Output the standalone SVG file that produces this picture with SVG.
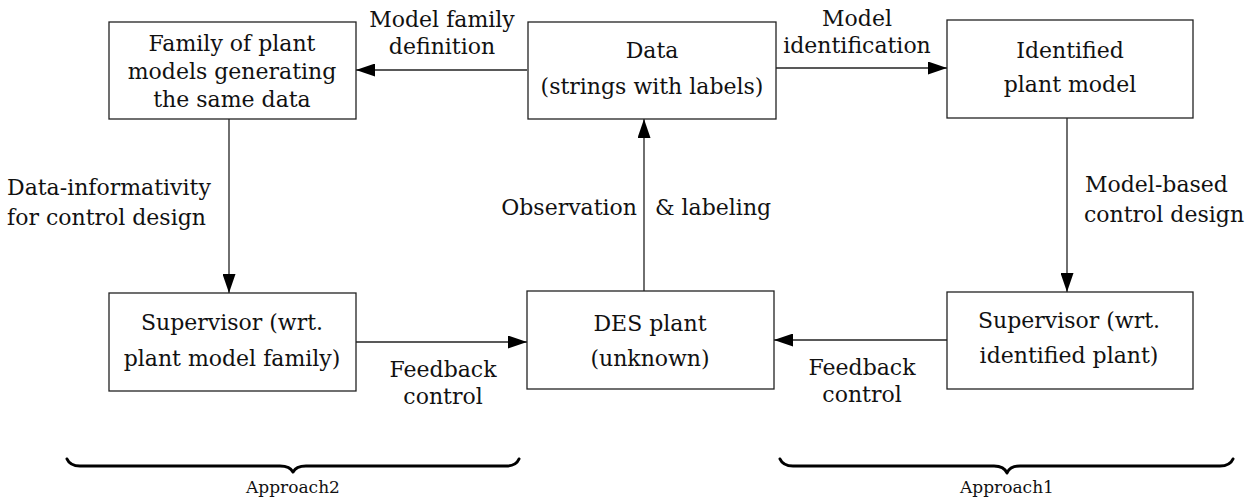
<svg xmlns="http://www.w3.org/2000/svg" width="1256" height="502" viewBox="0 0 1256 502">
<style>
.box{fill:#fff;stroke:#222;stroke-width:1.3}
.t{font-family:'DejaVu Serif','Liberation Serif',serif;font-size:22px;fill:#111;text-anchor:middle}
.l{text-anchor:start}
.e{text-anchor:end}
.s{font-size:17px}
.c{stroke:#222;stroke-width:1.3;fill:none}
.brace{stroke:#000;stroke-width:3;fill:none;stroke-linecap:round;stroke-linejoin:round}
</style>
<defs>
<marker id="ah" markerUnits="userSpaceOnUse" markerWidth="19" markerHeight="13" refX="19" refY="6.5" orient="auto">
<path d="M0,0 L19,6.5 L0,13 z" fill="#000"/>
</marker>
</defs>
<g id="connectors">
<path class="c" d="M527,70 L356,70" marker-end="url(#ah)"/>
<path class="c" d="M776,68 L947,68" marker-end="url(#ah)"/>
<path class="c" d="M229,119 L229,293" marker-end="url(#ah)"/>
<path class="c" d="M356,342 L527,342" marker-end="url(#ah)"/>
<path class="c" d="M947,340 L774,340" marker-end="url(#ah)"/>
<path class="c" d="M1067,118 L1067,292" marker-end="url(#ah)"/>
<path class="c" d="M644,291 L644,119" marker-end="url(#ah)"/>
<text class="t" x="442" y="27">Model family</text>
<text class="t" x="442" y="54">definition</text>
<text class="t" x="857" y="26">Model</text>
<text class="t" x="857" y="53">identification</text>
<text class="t l" x="7" y="195">Data-informativity</text>
<text class="t l" x="7" y="225">for control design</text>
<text class="t l" x="1085" y="192">Model-based</text>
<text class="t l" x="1084" y="222">control design</text>
<text class="t e" x="637" y="215">Observation</text>
<text class="t l" x="655" y="215">&amp; labeling</text>
<text class="t" x="443" y="377">Feedback</text>
<text class="t" x="443" y="404">control</text>
<text class="t" x="862" y="375">Feedback</text>
<text class="t" x="862" y="402">control</text>
</g>
<g id="family">
<rect class="box" x="109" y="22" width="247" height="97"/>
<text class="t" x="232" y="51">Family of plant</text>
<text class="t" x="232" y="79">models generating</text>
<text class="t" x="232" y="107">the same data</text>
</g>
<g id="data">
<rect class="box" x="528" y="22" width="248" height="97"/>
<text class="t" x="652" y="58">Data</text>
<text class="t" x="652" y="94">(strings with labels)</text>
</g>
<g id="identified">
<rect class="box" x="947" y="20" width="246" height="98"/>
<text class="t" x="1070" y="58">Identified</text>
<text class="t" x="1070" y="92">plant model</text>
</g>
<g id="supervisor-family">
<rect class="box" x="109" y="293" width="247" height="98"/>
<text class="t" x="232" y="330">Supervisor (wrt.</text>
<text class="t" x="232" y="366">plant model family)</text>
</g>
<g id="des-plant">
<rect class="box" x="527" y="291" width="247" height="98"/>
<text class="t" x="650" y="331">DES plant</text>
<text class="t" x="650" y="366">(unknown)</text>
</g>
<g id="supervisor-identified">
<rect class="box" x="947" y="292" width="246" height="97"/>
<text class="t" x="1069" y="328">Supervisor (wrt.</text>
<text class="t" x="1069" y="363">identified plant)</text>
</g>
<g id="approach2">
<path class="brace" d="M67,459 Q70,466 80,466 L280,466 Q290,466 293,472 Q296,466 306,466 L506,466 Q516,466 519,459"/>
<text class="t s" x="293" y="493">Approach2</text>
</g>
<g id="approach1">
<path class="brace" d="M780,459 Q783,466 793,466 L994,466 Q1004,466 1007,473 Q1010,466 1020,466 L1220,466 Q1230,466 1233,459"/>
<text class="t s" x="1007" y="493">Approach1</text>
</g>
</svg>
